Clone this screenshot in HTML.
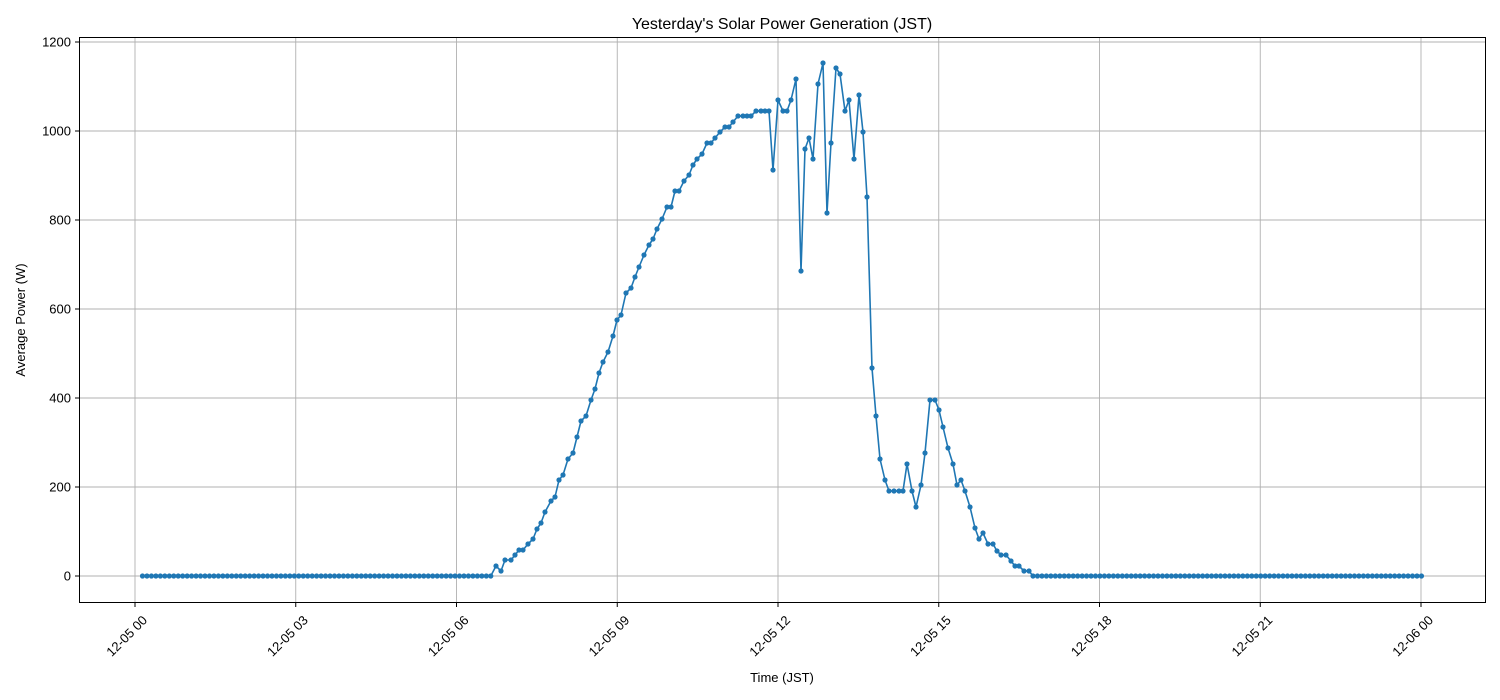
<!DOCTYPE html>
<html><head><meta charset="utf-8"><style>
html,body{margin:0;padding:0;background:#fff;}
svg{display:block;font-family:"Liberation Sans","DejaVu Sans",sans-serif;}
</style></head><body>
<svg id="s" width="1500" height="700" viewBox="0 0 1500 700" xmlns="http://www.w3.org/2000/svg">
<rect width="1500" height="700" fill="#fff"/>
<g id="grid" stroke="#b0b0b0" stroke-width="0.9"></g>
<g id="ticks" font-size="13" fill="#000"></g>
<polyline id="line" fill="none" stroke="#1f77b4" stroke-width="1.6" stroke-linejoin="round"/>
<g id="dots" fill="#1f77b4"></g>
<rect x="79.5" y="37.5" width="1406" height="565" fill="none" stroke="#000" stroke-width="1"/>
<text x="782" y="29" font-size="16" text-anchor="middle">Yesterday's Solar Power Generation (JST)</text>
<text x="782" y="682" font-size="13" text-anchor="middle">Time (JST)</text>
<text transform="translate(25,320) rotate(-90)" font-size="13" text-anchor="middle">Average Power (W)</text>
</svg>
<script>
var NS="http://www.w3.org/2000/svg";
function el(t,a,p,txt){var e=document.createElementNS(NS,t);for(var k in a)e.setAttribute(k,a[k]);if(txt)e.textContent=txt;document.getElementById(p).appendChild(e);}
var labs=["12-05 00","12-05 03","12-05 06","12-05 09","12-05 12","12-05 15","12-05 18","12-05 21","12-06 00"];
for(var i=0;i<9;i++){var x=135+i*160.75;el("line",{x1:x,x2:x,y1:37.5,y2:602.5},"grid");
 el("line",{x1:x,x2:x,y1:602.5,y2:607,stroke:"#000"},"ticks");
 el("text",{transform:"translate("+(x+13)+",621) rotate(-45)","text-anchor":"end"},"ticks",labs[i]);}
for(var j=0;j<=6;j++){var y=576-j*89;el("line",{x1:79.5,x2:1485.5,y1:y,y2:y},"grid");
 el("line",{x1:75,x2:79.5,y1:y,y2:y,stroke:"#000"},"ticks");
 el("text",{x:71,y:y+4.5,"text-anchor":"end"},"ticks",String(j*200));}
var step=4.465,pts=[];
for(var x=142.5;x<=492;x+=step)pts.push([x,576]);
var act=[[496,566],[501,571],[505,560],[511,560],[515,555],[519,550],[523,550],[528,544],[533,539],[537,529],[541,523],[545,512],[551,501],[555,497],[559,480],[563,475],[568,459],[573,453],[577,437],[581,421],[586,416],[591,400],[595,389],[599,373],[603,362],[608,352],[613,336],[617,320],[621,315],[626,293],[631,288],[635,277],[639,267],[644,255],[649,245],[653,239],[657,229],[662,219],[667,207],[671,207],[675,191],[679,191],[684,181],[689,175],[693,165],[697,159],[702,154],[707,143],[711,143],[715,138],[720,132],[725,127],[729,127],[733,122],[738,116],[743,116],[747,116],[751,116],[756,111],[761,111],[765,111],[769,111],[773,170],[778,100],[783,111],[787,111],[791,100],[796,79],[801,271],[805,149],[809,138],[813,159],[818,84],[823,63],[827,213],[831,143],[836,68],[840,74],[845,111],[849,100],[854,159],[859,95],[863,132],[867,197],[872,368],[876,416],[880,459],[885,480],[889,491],[894,491],[899,491],[903,491],[907,464],[912,491],[916,507],[921,485],[925,453],[930,400],[935,400],[939,410],[943,427],[948,448],[953,464],[957,485],[961,480],[965,491],[970,507],[975,528],[979,539],[983,533],[988,544],[993,544],[997,551],[1001,555],[1006,555],[1011,561],[1015,566],[1019,566],[1024,571],[1029,571]];
pts=pts.concat(act);
for(var x=1033;x<=1422;x+=step)pts.push([x,576]);
document.getElementById("line").setAttribute("points",pts.map(function(p){return p[0]+","+p[1];}).join(" "));
pts.forEach(function(p){el("circle",{cx:p[0],cy:p[1],r:2.6},"dots");});
</script>
</body></html>
